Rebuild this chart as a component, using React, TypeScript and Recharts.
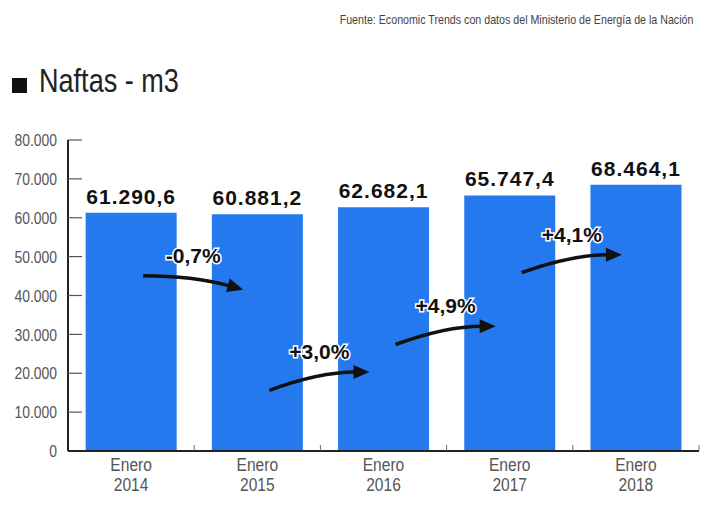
import React from "react";
import { BarChart, Bar, XAxis, YAxis, LabelList, ReferenceLine } from "recharts";

const categories = ["Enero 2014", "Enero 2015", "Enero 2016", "Enero 2017", "Enero 2018"];
const naftas = [61290.6, 60881.2, 62682.1, 65747.4, 68464.1];
const yTicks = [0, 10000, 20000, 30000, 40000, 50000, 60000, 70000, 80000];

// variación interanual + altura (m3) de inicio y fin de cada flecha
const changes = ["-0,7%", "+3,0%", "+4,9%", "+4,1%"];
const arrowFrom = [45100, 15600, 27400, 45900];
const arrowTo = [41500, 20300, 32100, 50500];

const data = categories.map((cat, i) => ({ cat, value: naftas[i] }));

const SANS = '"Liberation Sans", Arial, sans-serif';
const NARROW_X = 0.82; // no narrow face installed, squeeze Liberation Sans instead
const BLUE = "#2479ee";

const fmt = (v: number, dec = 0) => {
  const [int, frac] = v.toFixed(dec).split(".");
  const withDots = int.replace(/\B(?=(\d{3})+(?!\d))/g, ".");
  return frac ? `${withDots},${frac}` : withDots;
};

function YTick(props: any) {
  const { x, y, payload } = props;
  const axisX = x + 11;
  return (
    <g>
      {payload.value > 0 && <line x1={axisX} x2={axisX + 14} y1={y} y2={y} stroke="#555" strokeWidth={1.2} />}
      <text
        transform={`translate(${x},${y}) scale(${NARROW_X},1)`}
        dy="0.36em"
        textAnchor="end"
        fill="#555"
        fontFamily={SANS}
        fontSize={17}
      >
        {fmt(payload.value)}
      </text>
    </g>
  );
}

function XTick(props: any) {
  const { x, y, payload, width, visibleTicksCount } = props;
  const half = payload.offset || width / visibleTicksCount / 2;
  const [month, year] = String(payload.value).split(" ");
  return (
    <g>
      <line x1={x + half} x2={x + half} y1={y} y2={y - 6} stroke="#666" strokeWidth={1} />
      <text
        transform={`translate(${x},${y}) scale(${NARROW_X},1)`}
        textAnchor="middle"
        fill="#555"
        fontFamily={SANS}
        fontSize={19}
      >
        <tspan x={0} y={20}>{month}</tspan>
        <tspan x={0} y={40}>{year}</tspan>
      </text>
    </g>
  );
}

function Arrow(label: string) {
  return (props: any) => {
    const { x1, y1, x2, y2 } = props;
    const sx = x1 + 12;
    const ex = x2 - 14;
    const top = Math.min(y1, y2);
    const cx = (sx + ex) / 2;
    const ang = Math.atan2(y2 - top, ex - cx);
    const len = 16;
    const w = 7;
    const bx = ex - len * Math.cos(ang);
    const by = y2 - len * Math.sin(ang);
    const px = -Math.sin(ang) * w;
    const py = Math.cos(ang) * w;
    const shaftEndX = ex - (len - 2) * Math.cos(ang);
    const shaftEndY = y2 - (len - 2) * Math.sin(ang);
    return (
      <g>
        <path d={`M${sx},${y1} Q${cx},${top} ${shaftEndX},${shaftEndY}`} fill="none" stroke="#111" strokeWidth={3.5} />
        <polygon points={`${ex},${y2} ${bx + px},${by + py} ${bx - px},${by - py}`} fill="#111" />
        <text
          x={cx}
          y={top - 13}
          textAnchor="middle"
          fontFamily={SANS}
          fontWeight="bold"
          fontSize={21}
          fill="#111"
          stroke="#fff"
          strokeWidth={3}
          paintOrder="stroke"
        >
          {label}
        </text>
      </g>
    );
  };
}

export default function App() {
  return (
    <div style={{ position: "relative", width: 709, height: 506, background: "#fff", overflow: "hidden" }}>
      <style>{"body{margin:0}"}</style>
      <div
        style={{
          position: "absolute", top: 13, right: 16, fontFamily: SANS, fontSize: 13, lineHeight: 1, color: "#444",
          whiteSpace: "nowrap", transform: `scaleX(${NARROW_X})`, transformOrigin: "right top",
        }}
      >
        Fuente: Economic Trends con datos del Ministerio de Energía de la Nación
      </div>
      <div style={{ position: "absolute", left: 12, top: 78, width: 15, height: 15, background: "#111" }} />
      <div
        style={{
          position: "absolute", left: 39, top: 64, fontFamily: SANS, fontSize: 33, lineHeight: 1, color: "#222",
          whiteSpace: "nowrap", transform: `scaleX(${NARROW_X})`, transformOrigin: "left top",
        }}
      >
        Naftas - m3
      </div>
      <div style={{ position: "absolute", left: 0, top: 0 }}>
        <BarChart width={709} height={506} data={data} margin={{ top: 140, right: 10, bottom: 25, left: 8 }} barCategoryGap="14%">
          <XAxis
            dataKey="cat"
            height={30}
            tick={<XTick />}
            tickLine={false}
            tickSize={0}
            tickMargin={0}
            interval={0}
            axisLine={{ stroke: "#222", strokeWidth: 2 }}
          />
          <YAxis
            width={60}
            domain={[0, 80000]}
            ticks={yTicks}
            tick={<YTick />}
            tickLine={false}
            tickSize={0}
            tickMargin={11}
            interval={0}
            axisLine={{ stroke: "#222", strokeWidth: 2 }}
          />
          <Bar dataKey="value" fill={BLUE} isAnimationActive={false}>
            <LabelList
              dataKey="value"
              position="top"
              offset={9}
              formatter={(v: any) => fmt(Number(v), 1)}
              style={{ fontFamily: SANS, fontWeight: "bold", fontSize: 21, letterSpacing: 1, fill: "#111" }}
            />
          </Bar>
          {changes.map((c, i) => (
            <ReferenceLine
              key={c + i}
              segment={[
                { x: categories[i], y: arrowFrom[i] },
                { x: categories[i + 1], y: arrowTo[i] },
              ]}
              ifOverflow="visible"
              shape={Arrow(c)}
            />
          ))}
        </BarChart>
      </div>
    </div>
  );
}
